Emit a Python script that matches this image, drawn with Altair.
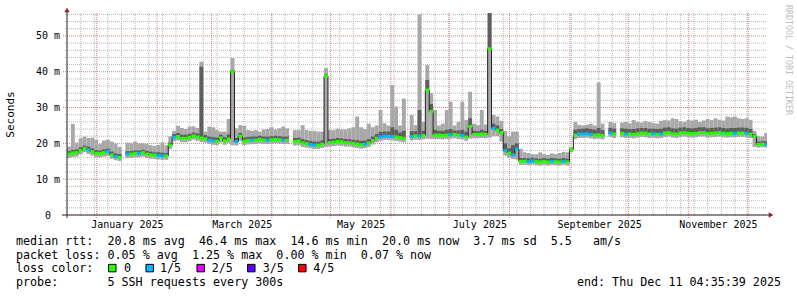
import altair as alt
import pandas as pd

# ---------------- data ----------------
START = "2024-12-16T18:00:00"
END = "2025-12-11T04:35:39"
BIN_DAYS = 2          # one value per 2-day column
Y_TOP_MS = 56.4

median_ms = [
    17.0, 17.3, 17.4, 18.0, 18.6, 18.2, 17.7, 17.2, 17.2, 17.4,
    17.7, 16.8, 16.3, 16.1, None, 17.0, 17.0, 17.2, 17.2, 17.4,
    17.0, 16.8, 16.7, 16.6, 16.5, 16.5, 19.5, 21.7, 21.9, 21.4,
    21.4, 21.7, 22.1, 21.8, 21.5, 21.3, 20.9, 20.7, 20.6, 21.5,
    20.7, 21.2, 40.0, 20.5, 22.0, 20.6, 20.8, 20.9, 20.9, 21.1,
    20.9, 20.9, 21.0, 21.1, 21.0, 20.9, 20.9, None, 20.5, 20.6,
    20.1, 19.9, 19.7, 19.5, 19.5, 19.8, 38.8, 20.2, 20.3, 20.5,
    20.4, 20.2, 20.2, 20.0, 19.8, 19.6, 19.8, 20.1, 20.8, 21.4,
    21.8, 22.0, 22.0, 21.9, 21.8, 21.6, 21.4, None, 21.9, 22.1,
    22.0, 22.2, 34.9, 28.9, 22.3, 22.3, 22.2, 22.3, 22.4, 22.5,
    22.3, 22.2, 21.8, 24.7, 22.5, 22.5, 22.6, 22.5, 46.4, 24.2,
    23.7, 23.0, 18.0, 17.3, 16.8, 18.4, 15.0, 15.0, 14.9, 15.1,
    14.9, 14.8, 15.0, 14.8, 15.0, 14.9, 14.8, 15.0, 14.8, 18.3,
    22.3, 22.6, 22.6, 22.7, 22.5, 22.3, 22.4, 22.2, None, 22.9,
    22.6, None, 22.8, 22.6, 22.6, 22.5, 22.7, 22.9, 22.8, 22.6,
    22.7, 22.5, 22.6, 22.9, 23.0, 22.7, 22.6, 22.9, 23.0, 22.8,
    22.7, 22.8, 23.0, 23.0, 22.7, 22.8, 22.9, 23.0, 22.8, 22.7,
    22.8, 22.8, 22.9, 22.9, 22.8, 22.6, 21.9, 19.7, 19.8, 19.7,
]

smoke_hi_ms = [
    19.1, 25.4, 20.2, 21.4, 21.9, 21.5, 21.6, 21.0, 19.8, 20.8,
    21.0, 20.5, 20.0, 19.0, None, 20.2, 20.0, 20.5, 20.0, 20.0,
    19.8, 19.5, 19.3, 19.6, 20.3, 19.5, 22.0, 23.5, 24.9, 24.3,
    24.0, 24.7, 24.8, 24.3, 42.8, 23.3, 24.7, 24.5, 23.7, 23.3,
    23.3, 26.8, 43.8, 24.2, 25.1, 24.9, 23.7, 23.5, 23.7, 23.3,
    23.9, 24.0, 24.5, 23.9, 24.2, 24.7, 24.2, None, 23.7, 23.7,
    25.1, 23.7, 23.5, 23.5, 23.3, 23.3, 41.0, 23.7, 23.7, 24.1,
    23.9, 23.9, 24.2, 24.5, 27.5, 24.5, 24.0, 25.5, 24.5, 25.0,
    29.3, 25.6, 25.0, 36.3, 30.3, 25.0, 32.5, None, 27.9, 25.1,
    56.0, 26.0, 41.9, 34.0, 29.3, 25.0, 25.5, 29.3, 31.6, 25.0,
    26.0, 31.6, 26.5, 34.4, 25.5, 25.1, 29.3, 25.3, 56.4, 27.9,
    27.5, 26.3, 23.5, 22.0, 23.3, 23.3, 18.5, 17.5, 17.3, 17.0,
    17.0, 17.5, 17.0, 16.8, 17.2, 17.0, 17.3, 17.6, 17.5, 18.8,
    26.0, 25.2, 25.0, 25.2, 25.5, 25.0, 37.0, 25.5, None, 26.0,
    25.7, None, 25.8, 26.0, 25.6, 26.5, 26.0, 25.8, 26.2, 26.0,
    25.7, 25.5, 26.3, 26.5, 26.4, 27.0, 26.8, 26.2, 26.0, 26.5,
    26.4, 26.6, 26.0, 26.4, 26.8, 26.5, 27.0, 26.6, 26.4, 27.5,
    27.3, 27.5, 27.0, 26.8, 27.0, 26.6, 23.5, 22.0, 21.9, 22.9,
]

smoke_dark_hi_ms = [
    17.8, 18.2, 18.3, 18.9, 19.4, 19.1, 18.6, 18.1, 18.0, 18.3,
    18.5, 17.7, 17.2, 17.0, None, 17.8, 17.9, 18.0, 18.0, 18.2,
    17.9, 17.7, 17.5, 17.5, 17.4, 17.3, 20.2, 22.6, 22.9, 22.4,
    22.4, 22.7, 23.0, 22.8, 41.4, 22.3, 21.9, 21.7, 21.6, 22.4,
    21.7, 22.5, 40.5, 21.5, 22.9, 21.6, 21.8, 21.9, 21.9, 22.1,
    21.9, 21.9, 22.0, 22.1, 22.0, 21.9, 21.9, None, 21.5, 21.6,
    21.2, 20.9, 20.7, 20.5, 20.5, 20.8, 39.3, 21.2, 21.3, 21.5,
    21.4, 21.2, 21.2, 21.0, 20.9, 20.7, 20.8, 21.2, 21.9, 22.6,
    23.2, 23.3, 23.3, 24.5, 23.8, 23.0, 23.5, None, 23.4, 23.4,
    29.3, 23.5, 37.7, 31.0, 23.8, 23.5, 23.5, 23.8, 24.0, 23.6,
    23.6, 23.8, 23.2, 27.0, 23.5, 23.4, 23.8, 23.5, 56.4, 25.5,
    25.0, 24.0, 20.0, 18.6, 19.5, 20.0, 15.9, 15.9, 15.8, 16.0,
    15.8, 15.7, 15.9, 15.7, 15.9, 15.8, 15.7, 15.9, 15.7, 18.8,
    23.8, 24.0, 24.1, 24.2, 24.0, 23.8, 24.3, 23.7, None, 24.3,
    24.1, None, 24.2, 24.1, 24.0, 24.0, 24.2, 24.3, 24.3, 24.1,
    24.1, 24.0, 24.1, 24.4, 24.5, 24.2, 24.1, 24.4, 24.5, 24.3,
    24.2, 24.3, 24.5, 24.5, 24.2, 24.3, 24.4, 24.5, 24.3, 24.2,
    24.3, 24.3, 24.4, 24.4, 24.3, 24.0, 22.5, 20.5, 20.6, 20.6,
]

smoke_lo_ms = [
    15.9, 16.2, 16.3, 16.9, 17.5, 17.0, 16.6, 16.1, 16.1, 16.3,
    16.5, 15.7, 15.3, 15.1, None, 15.9, 15.9, 16.1, 16.1, 16.3,
    15.9, 15.7, 15.6, 15.5, 15.4, 15.4, 18.4, 20.6, 20.8, 20.3,
    20.3, 20.6, 21.0, 20.7, 20.4, 20.2, 19.8, 19.6, 19.5, 20.2,
    19.6, 20.1, 19.5, 19.4, 20.7, 19.5, 19.7, 19.8, 19.8, 20.0,
    19.8, 19.8, 19.9, 20.0, 19.9, 19.8, 19.8, None, 19.4, 19.5,
    19.0, 18.8, 18.6, 18.4, 18.4, 18.7, 19.0, 19.1, 19.2, 19.4,
    19.3, 19.1, 19.1, 18.9, 18.7, 18.5, 18.7, 19.0, 19.7, 20.3,
    20.7, 20.9, 20.9, 20.8, 20.7, 20.5, 20.3, None, 20.8, 21.0,
    20.9, 21.1, 21.3, 21.2, 21.2, 21.2, 21.1, 21.2, 21.3, 21.4,
    21.2, 21.1, 20.7, 21.3, 21.4, 21.4, 21.5, 21.4, 21.6, 22.0,
    22.0, 20.5, 16.6, 16.0, 15.6, 15.5, 14.0, 14.0, 13.9, 14.1,
    13.9, 13.8, 14.0, 13.8, 14.0, 13.9, 13.8, 14.0, 13.8, 17.5,
    21.2, 21.5, 21.5, 21.6, 21.4, 21.2, 21.3, 21.1, None, 21.8,
    21.5, None, 21.7, 21.5, 21.5, 21.4, 21.6, 21.8, 21.7, 21.5,
    21.6, 21.4, 21.5, 21.8, 21.9, 21.6, 21.5, 21.8, 21.9, 21.7,
    21.6, 21.7, 21.9, 21.9, 21.6, 21.7, 21.8, 21.9, 21.7, 21.6,
    21.7, 21.7, 21.8, 21.8, 21.7, 21.5, 19.0, 18.8, 18.9, 18.8,
]

# columns whose median carries 1/5 packet loss (blue)
loss_1of5_bins = [5, 10, 12, 15, 18, 23, 24, 27, 36, 37, 43, 47, 51, 55, 62, 63,
                  76, 80, 81, 82, 83, 88, 90, 98, 101, 109, 112, 114, 115, 118,
                  119, 124, 127, 131, 132, 133, 134, 139, 143, 150, 152, 171, 174, 179]

loss_labels = ["0", "1/5", "2/5", "3/5", "4/5"]
loss_colors = ["#26ff00", "#00b8ff", "#dd00ff", "#5e00ff", "#ff0000"]

y_label_values = [0, 10, 20, 30, 40, 50]
y_minor_values = [2, 4, 6, 8, 12, 14, 16, 18, 22, 24, 26, 28, 32, 34, 36, 38, 42, 44, 46, 48, 52, 54, 56]
y_major_values = [0, 10, 20, 30, 40, 50]

legend_line1 = "median rtt:  20.8 ms avg  46.4 ms max  14.6 ms min  20.0 ms now  3.7 ms sd  5.5   am/s"
legend_line2 = "packet loss: 0.05 % avg  1.25 % max  0.00 % min  0.07 % now"
legend_line3 = "loss color:"
legend_line4 = "probe:       5 SSH requests every 300s"
end_text = "end: Thu Dec 11 04:35:39 2025"
watermark = "RRDTOOL / TOBI OETIKER"

# ---------------- tables ----------------
start = pd.Timestamp(START)
end = pd.Timestamp(END)
rows, path = [], []
seg, k = 0, 0
for i, m in enumerate(median_ms):
    if m is None:
        seg += 1
        continue
    t0 = start + pd.Timedelta(days=BIN_DAYS * i)
    t1 = min(start + pd.Timedelta(days=BIN_DAYS * (i + 1)), end)
    rows.append(dict(t0=t0.isoformat(), t1=t1.isoformat(), med=m,
                     lo=smoke_lo_ms[i], hi=smoke_hi_ms[i], dhi=smoke_dark_hi_ms[i],
                     loss="1/5" if i in loss_1of5_bins else "0"))
    path.append(dict(t=t0.isoformat(), med=m, seg=seg, k=k)); k += 1
    path.append(dict(t=t1.isoformat(), med=m, seg=seg, k=k)); k += 1
bins = pd.DataFrame(rows)
path = pd.DataFrame(path)

weeks = pd.DataFrame({"t": [d.isoformat() for d in pd.date_range(start, end, freq="W-MON")]})
months = pd.DataFrame({"t": [d.isoformat() for d in pd.date_range("2025-01-01", "2025-12-01", freq="MS")]})
ymin = pd.DataFrame({"v": y_minor_values})
ymaj = pd.DataFrame({"v": y_major_values})
one = pd.DataFrame({"a": [0]})

NB = "\u00a0"   # keep monospace runs of spaces
def keep_spaces(s):
    return s.replace(" ", NB)

MONO = "DejaVu Sans Mono"
xscale = alt.Scale(domain=[alt.DateTime(year=2024, month=12, date=16, hours=18),
                           alt.DateTime(year=2025, month=12, date=11, hours=4, minutes=35, seconds=39)],
                   nice=False)
yscale = alt.Scale(domain=[0, Y_TOP_MS], nice=False, zero=False)

x_label_dates = [alt.DateTime(year=2025, month=1, date=16, hours=12),
                 alt.DateTime(year=2025, month=3, date=16, hours=12),
                 alt.DateTime(year=2025, month=5, date=16, hours=12),
                 alt.DateTime(year=2025, month=7, date=16, hours=12),
                 alt.DateTime(year=2025, month=9, date=16),
                 alt.DateTime(year=2025, month=11, date=16)]

x_axis = alt.Axis(values=x_label_dates, format="%B %Y", labelFont=MONO, labelFontSize=10,
                  labelColor="#000000", domain=False, ticks=False, tickSize=0, grid=False,
                  labelPadding=4.6, title=None, labelOverlap=False, labelFlush=False, labelBound=False)
y_axis = alt.Axis(values=y_label_values,
                  labelExpr="datum.value == 0 ? '0' : datum.value + '\u00a0m'",
                  labelFont=MONO, labelFontSize=10, labelColor="#000000", labelAlign="center",
                  labelPadding=19.5, domain=False, ticks=False, tickSize=0, grid=False,
                  title="Seconds", titleFont=MONO, titleFontSize=11, titleFontWeight="normal",
                  titleColor="#000000", titleX=-56.5, titleY=101, titleAngle=270,
                  titleBaseline="middle", titleAlign="center")

MINOR = "#b9b9b9"
MAJOR = "#dc8080"
layers = []
# minor grids
layers.append(alt.Chart(ymin).mark_rule(color=MINOR, strokeDash=[1, 1], strokeWidth=1).encode(
    y=alt.Y("v:Q", scale=yscale, axis=None), x=alt.value(-2), x2=alt.value(700)))
layers.append(alt.Chart(weeks).mark_rule(color=MINOR, strokeDash=[1, 1], strokeWidth=1).encode(
    x=alt.X("t:T", scale=xscale, axis=None), y=alt.value(0), y2=alt.value(204)))
# major grids
layers.append(alt.Chart(ymaj).mark_rule(color=MAJOR, strokeDash=[1, 1], strokeWidth=1).encode(
    y=alt.Y("v:Q", scale=yscale, axis=None), x=alt.value(-4), x2=alt.value(700)))
layers.append(alt.Chart(months).mark_rule(color=MAJOR, strokeDash=[1, 1], strokeWidth=1).encode(
    x=alt.X("t:T", scale=xscale, axis=None), y=alt.value(0), y2=alt.value(205)))
# smoke
layers.append(alt.Chart(bins).mark_rect(color="#a8a8a8").encode(
    x=alt.X("t0:T", scale=xscale, axis=x_axis), x2="t1:T",
    y=alt.Y("lo:Q", scale=yscale, axis=y_axis), y2="hi:Q"))
layers.append(alt.Chart(bins).mark_rect(color="#5e5e5e").encode(
    x=alt.X("t0:T", scale=xscale, axis=None), x2="t1:T",
    y=alt.Y("med:Q", scale=yscale, axis=None), y2="dhi:Q"))
# median path (dark) and loss-coloured median
layers.append(alt.Chart(path).mark_line(color="#202020", strokeWidth=1).encode(
    x=alt.X("t:T", scale=xscale, axis=None), y=alt.Y("med:Q", scale=yscale, axis=None),
    detail="seg:N", order="k:Q"))
layers.append(alt.Chart(bins).mark_rule(strokeWidth=3).encode(
    x=alt.X("t0:T", scale=xscale, axis=None), x2="t1:T",
    y=alt.Y("med:Q", scale=yscale, axis=None),
    color=alt.Color("loss:N", scale=alt.Scale(domain=loss_labels, range=loss_colors), legend=None)))
# axis lines and arrows
AX = "#333333"
ARROW = "#962020"
layers.append(alt.Chart(one).mark_rule(color=AX, strokeWidth=1).encode(
    x=alt.value(-5), x2=alt.value(704), y=alt.value(202)))
layers.append(alt.Chart(one).mark_rule(color=AX, strokeWidth=1).encode(
    x=alt.value(0), y=alt.value(-3), y2=alt.value(205)))
layers.append(alt.Chart(one).mark_point(shape="triangle-up", filled=True, color=ARROW, size=28, opacity=1).encode(
    x=alt.value(0), y=alt.value(-3)))
layers.append(alt.Chart(one).mark_point(shape="triangle-right", filled=True, color=ARROW, size=28, opacity=1).encode(
    x=alt.value(704), y=alt.value(202)))

# watermark
layers.append(alt.Chart(one).mark_text(font=MONO, fontSize=8.3, color="#bdbdbd", angle=90,
                                       align="center", baseline="middle").encode(
    x=alt.value(720.5), y=alt.value(47), text=alt.value(keep_spaces(watermark))))

# legend text (plot origin is at page x=67, y=13)
LX = 16 - 67
FS = 11.7
for txt, yb in [(legend_line1, 232), (legend_line2, 245.7), (legend_line3, 259.4), (legend_line4, 273)]:
    layers.append(alt.Chart(one).mark_text(font=MONO, fontSize=FS, color="#000000", align="left",
                                           baseline="alphabetic").encode(
        x=alt.value(LX), y=alt.value(yb), text=alt.value(keep_spaces(txt))))
layers.append(alt.Chart(one).mark_text(font=MONO, fontSize=FS, color="#000000", align="right",
                                       baseline="alphabetic").encode(
    x=alt.value(781 - 67), y=alt.value(273), text=alt.value(keep_spaces(end_text))))

box_cx = [112.3, 149.7, 200.7, 251.3, 302.3]
lab_x = [124, 160, 211.7, 262.7, 313.3]
for lab, col, bx, lx in zip(loss_labels, loss_colors, box_cx, lab_x):
    layers.append(alt.Chart(one).mark_square(size=56, color=col, opacity=1, stroke="#000000",
                                             strokeWidth=1).encode(
        x=alt.value(bx - 67), y=alt.value(268.4 - 13 - 0.3)))
    layers.append(alt.Chart(one).mark_text(font=MONO, fontSize=FS, color="#000000", align="left",
                                           baseline="alphabetic").encode(
        x=alt.value(lx - 67), y=alt.value(259.4), text=alt.value(lab)))

chart = alt.layer(*layers).resolve_axis(x="independent", y="independent").properties(
    width=700, height=202,
    padding={"left": 67, "top": 13, "right": 30, "bottom": 82},
    autosize=alt.AutoSizeParams(type="none"),
    background="white",
).configure_view(stroke=None)

chart.save("out.html", embed_options={"renderer": "svg", "actions": False})
